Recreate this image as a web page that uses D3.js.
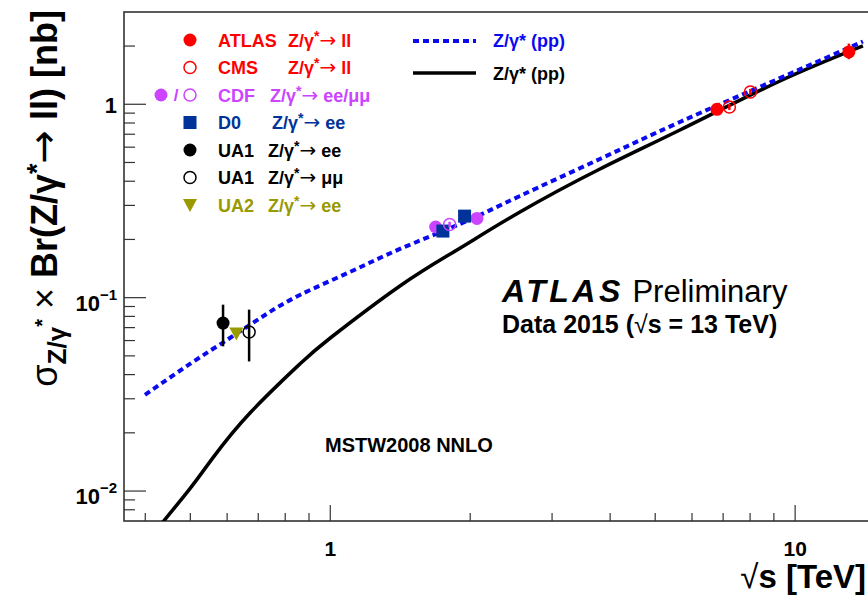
<!DOCTYPE html>
<html>
<head>
<meta charset="utf-8">
<script src="https://cdn.jsdelivr.net/npm/d3@7"></script>
<style>
  body { margin: 0; background: #fff; }
  svg text { font-family: "Liberation Sans", Arial, Helvetica, sans-serif; font-weight: bold; }
  .arrow { font-family: "DejaVu Sans", sans-serif; font-weight: normal; }
</style>
</head>
<body>
<svg id="chart" width="868" height="596"></svg>
<script>
// theory curves [sqrt(s) TeV, sigma nb]
const dashedCurve = [[0.3994,0.0314],[0.4991,0.04543],[0.6083,0.06186],[0.7238,0.08136],[0.8604,0.1033],[1.1025,0.1358],[1.412,0.1786],[1.901,0.2404],[2.559,0.3356],[3.803,0.5215],[5.652,0.81],[9.183,1.351],[13.99,2.112]];
const solidCurve = [[0.426,0.006293],[0.4387,0.007007],[0.4991,0.01029],[0.5595,0.01489],[0.6719,0.02534],[0.8604,0.04543],[1.0,0.06186],[1.412,0.1149],[1.873,0.1764],[2.559,0.2773],[3.803,0.4628],[5.652,0.7364],[9.183,1.304],[13.99,2.002]];

// measurements
const atlasData = [{x:6.79,y:0.942,lo:0.93,hi:0.955},{x:13.05,y:1.866,lo:1.71,hi:2.06}];
const cmsData = [{x:7.22,y:0.968,lo:0.935,hi:1.003},{x:8.01,y:1.158,lo:1.118,hi:1.20}];
const cdfFilled = [{x:1.685,y:0.232},{x:2.068,y:0.257}];
const cdfOpen = [{x:1.806,y:0.239,lo:0.231,hi:0.247}];
const d0Data = [{x:1.747,y:0.221},{x:1.945,y:0.264}];
const ua1ee = [{x:0.588,y:0.0739,lo:0.056,hi:0.092}];
const ua1mm = [{x:0.669,y:0.0664,lo:0.0468,hi:0.0867}];
const ua2ee = [{x:0.628,y:0.066}];

const legendNames = ["ATLAS","CMS","CDF","D0","UA1","UA1","UA2"];
const legendDecays = ["ll","ll","ee/\u03bc\u03bc","ee","ee","\u03bc\u03bc","ee"];
const curveLabels = ["Z/\u03b3* (pp)","Z/\u03b3* (pp)"];

const xMajor = [1, 10];
const yMajor = [0.01, 0.1, 1];
const yMajorLabels = [["10","\u22122"],["10","\u22121"],["1",""]];

const svg = d3.select("#chart");
const mLeft = 124, mTop = 12, mRight = 877, mBottom = 521;

const x = d3.scaleLog().domain([0.36, 15]).range([mLeft, mRight]);
const y = d3.scaleLog().domain([0.007, 3]).range([mBottom, mTop]);

svg.append("defs").append("clipPath").attr("id", "clip")
  .append("rect").attr("x", mLeft).attr("y", mTop)
  .attr("width", mRight - mLeft).attr("height", mBottom - mTop);

// ticks
const xt = x.ticks().filter(d => d > 0.36 && d < 15);
svg.selectAll("line.xtick").data(xt).enter().append("line")
  .attr("x1", d => x(d)).attr("x2", d => x(d))
  .attr("y1", mBottom)
  .attr("y2", d => xMajor.includes(d) ? mBottom - 16 : mBottom - 8)
  .attr("stroke", "#333").attr("stroke-width", 1.2);

const yt = y.ticks().filter(d => d > 0.0071 && d < 3);
svg.selectAll("line.ytick").data(yt).enter().append("line")
  .attr("y1", d => y(d)).attr("y2", d => y(d))
  .attr("x1", mLeft)
  .attr("x2", d => yMajor.some(m => Math.abs(m - d) < 1e-9) ? mLeft + 22 : mLeft + 11)
  .attr("stroke", "#333").attr("stroke-width", 1.2);

// frame
svg.append("rect").attr("x", mLeft).attr("y", mTop)
  .attr("width", mRight - mLeft).attr("height", mBottom - mTop)
  .attr("fill", "none").attr("stroke", "#333").attr("stroke-width", 1.6);

// tick labels
xMajor.forEach(v => {
  svg.append("text").attr("x", x(v)).attr("y", 556)
    .attr("text-anchor", "middle").attr("font-size", 21).text(v);
});
yMajor.forEach((v, i) => {
  const lab = yMajorLabels[i];
  const t = svg.append("text").attr("x", 117).attr("y", y(v) + (lab[1] ? 13 : 9))
    .attr("text-anchor", "end").attr("font-size", 22);
  t.append("tspan").text(lab[0]);
  if (lab[1]) t.append("tspan").attr("font-size", 15).attr("dy", -11).text(lab[1]);
});

// axis titles
const xTitle = svg.append("text").attr("x", 866).attr("y", 588)
  .attr("text-anchor", "end").attr("font-size", 33);
xTitle.append("tspan").attr("font-weight", "normal").text("\u221a");
xTitle.append("tspan").text("s [TeV]");

const yTitle = svg.append("text")
  .attr("transform", "translate(57,10) rotate(-90)")
  .attr("text-anchor", "end").attr("font-size", 36);
yTitle.append("tspan").attr("font-weight", "normal").text("\u03c3");
yTitle.append("tspan").attr("font-size", 26).attr("dy", 9).text("Z/\u03b3");
yTitle.append("tspan").attr("font-size", 20).attr("dy", -17).text("*");
yTitle.append("tspan").attr("dy", 8).attr("font-weight", "normal").text(" \u00d7 ");
yTitle.append("tspan").text("Br(Z/\u03b3");
yTitle.append("tspan").attr("font-size", 27).attr("dy", -11).text("*");
yTitle.append("tspan").attr("class", "arrow").attr("dy", 11).attr("font-size", 40).text("\u2192");
yTitle.append("tspan").text(" ll) [nb]");

// curves
const line = d3.line().x(d => x(d[0])).y(d => y(d[1])).curve(d3.curveNatural);
const plot = svg.append("g").attr("clip-path", "url(#clip)");
plot.append("path").datum(solidCurve).attr("d", line)
  .attr("fill", "none").attr("stroke", "#000").attr("stroke-width", 3.5);
plot.append("path").datum(dashedCurve).attr("d", line)
  .attr("fill", "none").attr("stroke", "#0a0af0").attr("stroke-width", 4)
  .attr("stroke-dasharray", "6,4");

// error bars
function errBars(data, color) {
  plot.selectAll(null).data(data.filter(d => d.lo)).enter().append("line")
    .attr("x1", d => x(d.x)).attr("x2", d => x(d.x))
    .attr("y1", d => y(d.lo)).attr("y2", d => y(d.hi))
    .attr("stroke", color).attr("stroke-width", 2.5);
}
function circles(data, color, filled) {
  plot.selectAll(null).data(data).enter().append("circle")
    .attr("cx", d => x(d.x)).attr("cy", d => y(d.y))
    .attr("r", filled ? 6.5 : 6)
    .attr("fill", filled ? color : "none")
    .attr("stroke", color).attr("stroke-width", filled ? 0 : 1.5);
}
const tri = "M-7,-5L7,-5L0,8Z";

errBars(ua1ee, "#000"); circles(ua1ee, "#000", true);
errBars(ua1mm, "#000"); circles(ua1mm, "#000", false);
plot.selectAll(null).data(ua2ee).enter().append("path")
  .attr("d", tri).attr("fill", "#999900")
  .attr("transform", d => `translate(${x(d.x)},${y(d.y)})`);

circles(cdfFilled, "#cc44ff", true);
plot.selectAll(null).data(d0Data).enter().append("rect")
  .attr("x", d => x(d.x) - 6.5).attr("y", d => y(d.y) - 6.5)
  .attr("width", 13).attr("height", 13).attr("fill", "#003399");
errBars(cdfOpen, "#cc44ff"); circles(cdfOpen, "#cc44ff", false);

errBars(cmsData, "#ff0000"); circles(cmsData, "#ff0000", false);
errBars(atlasData, "#ff0000"); circles(atlasData, "#ff0000", true);

// legend (markers)
const legColors = ["#ff0000","#ff0000","#cc44ff","#003399","#000","#000","#999900"];
const rowY = i => 40 + i * 27.5;
const lg = svg.append("g");
lg.append("circle").attr("cx", 190).attr("cy", rowY(0)).attr("r", 6.5).attr("fill", "#ff0000");
lg.append("circle").attr("cx", 190).attr("cy", rowY(1)).attr("r", 6).attr("fill", "none").attr("stroke", "#ff0000").attr("stroke-width", 1.5);
lg.append("circle").attr("cx", 161).attr("cy", rowY(2)).attr("r", 6.5).attr("fill", "#cc44ff");
lg.append("text").attr("x", 176).attr("y", rowY(2) + 6).attr("text-anchor", "middle")
  .attr("font-size", 17).attr("font-weight", "normal").attr("fill", "#cc44ff").text("/");
lg.append("circle").attr("cx", 190).attr("cy", rowY(2)).attr("r", 6).attr("fill", "none").attr("stroke", "#cc44ff").attr("stroke-width", 1.5);
lg.append("rect").attr("x", 183.5).attr("y", rowY(3) - 6.5).attr("width", 13).attr("height", 13).attr("fill", "#003399");
lg.append("circle").attr("cx", 190).attr("cy", rowY(4)).attr("r", 6.5).attr("fill", "#000");
lg.append("circle").attr("cx", 190).attr("cy", rowY(5)).attr("r", 6).attr("fill", "none").attr("stroke", "#000").attr("stroke-width", 1.5);
lg.append("path").attr("d", tri).attr("fill", "#999900").attr("transform", `translate(190,${rowY(6) - 1})`);

// legend (text)
const decayX = [288, 288, 270, 272, 268, 268, 268];
legendNames.forEach((name, i) => {
  lg.append("text").attr("x", 218).attr("y", rowY(i) + 6.5)
    .attr("font-size", 18).attr("fill", legColors[i]).text(name);
  const t = lg.append("text").attr("x", decayX[i]).attr("y", rowY(i) + 6.5)
    .attr("font-size", 18).attr("fill", legColors[i]);
  t.append("tspan").text("Z/\u03b3");
  t.append("tspan").attr("font-size", 14).attr("dy", -6).text("*");
  t.append("tspan").attr("class", "arrow").attr("dy", 6).attr("font-size", 20).text("\u2192");
  t.append("tspan").text(" " + legendDecays[i]);
});

// curve legend
lg.append("line").attr("x1", 413).attr("x2", 476).attr("y1", 41).attr("y2", 41)
  .attr("stroke", "#0a0af0").attr("stroke-width", 4).attr("stroke-dasharray", "6,4");
lg.append("line").attr("x1", 413).attr("x2", 476).attr("y1", 73).attr("y2", 73)
  .attr("stroke", "#000").attr("stroke-width", 3.5);
lg.append("text").attr("x", 493).attr("y", 47).attr("font-size", 18).attr("fill", "#0a0af0").text(curveLabels[0]);
lg.append("text").attr("x", 493).attr("y", 80).attr("font-size", 18).attr("fill", "#000").text(curveLabels[1]);

// labels
const atl = svg.append("text").attr("x", 502).attr("y", 302).attr("font-size", 32);
atl.append("tspan").attr("font-style", "italic").attr("letter-spacing", 3.5).text("ATLAS");
atl.append("tspan").attr("font-weight", "normal").attr("font-size", 31).text(" Preliminary");
const dat = svg.append("text").attr("x", 502).attr("y", 333).attr("font-size", 25);
dat.append("tspan").text("Data 2015 (");
dat.append("tspan").attr("font-weight", "normal").text("\u221a");
dat.append("tspan").text("s = 13 TeV)");
svg.append("text").attr("x", 325).attr("y", 452).attr("font-size", 20).text("MSTW2008 NNLO");
</script>
</body>
</html>
